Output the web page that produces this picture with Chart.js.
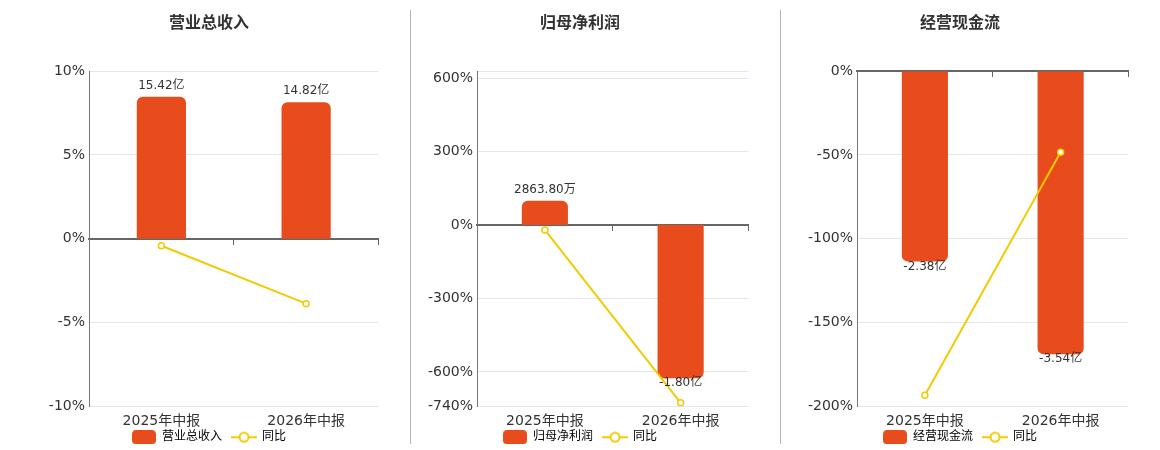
<!DOCTYPE html>
<html>
<head>
<meta charset="utf-8">
<script src="https://cdn.jsdelivr.net/npm/chart.js@4.4.1/dist/chart.umd.min.js"></script>
<style>
  body { margin: 0; background: #fff; }
  #wrap { position: relative; width: 1160px; height: 450px; overflow: hidden; }
  .panel { position: absolute; top: 0; height: 450px; overflow: hidden; }
  .sep { position: absolute; top: 10px; width: 1px; height: 434px; background: #b4b4b4; }
</style>
</head>
<body>
<div id="wrap">
  <div class="panel" style="left:38px;width:346px"><canvas id="c1"></canvas></div>
  <div class="sep" style="left:410px"></div>
  <div class="panel" style="left:410px;width:344px"><canvas id="c2"></canvas></div>
  <div class="sep" style="left:780px"></div>
  <div class="panel" style="left:790px;width:344px"><canvas id="c3"></canvas></div>
</div>
<script>
const categories = ['2025年中报', '2026年中报'];

const revenue = [15.42, 14.82];
const revenueLabels = ['15.42亿', '14.82亿'];
const revenueYoy = [-0.42, -3.88];
const revenueTicks = [-10, -5, 0, 5, 10];

const profit = [0.2864, -1.80];
const profitLabels = ['2863.80万', '-1.80亿'];
const profitYoy = [-20, -726];
const profitTicks = [-740, -600, -300, 0, 300, 600];

const cashflow = [-2.38, -3.54];
const cashflowLabels = ['-2.38亿', '-3.54亿'];
const cashflowYoy = [-193.4, -48.4];
const cashflowTicks = [-200, -150, -100, -50, 0];

const BAR_COLOR = '#E84C1D';
const LINE_COLOR = '#F2CB05';
const FONT = "'DejaVu Sans', 'Noto Sans CJK SC', sans-serif";
const CANVAS_H = 469;

Chart.defaults.font.family = FONT;
Chart.defaults.color = '#333';

function barIcon() {
  const c = document.createElement('canvas');
  c.width = 24; c.height = 14;
  const ctx = c.getContext('2d');
  ctx.fillStyle = BAR_COLOR;
  ctx.beginPath();
  ctx.roundRect(0, 0, 24, 14, 4);
  ctx.fill();
  return c;
}

function lineIcon() {
  const c = document.createElement('canvas');
  c.width = 26; c.height = 12;
  const ctx = c.getContext('2d');
  ctx.strokeStyle = LINE_COLOR;
  ctx.lineWidth = 2;
  ctx.beginPath();
  ctx.moveTo(0, 6); ctx.lineTo(26, 6);
  ctx.stroke();
  ctx.beginPath();
  ctx.arc(13, 6, 4.5, 0, Math.PI * 2);
  ctx.fillStyle = '#fff';
  ctx.fill();
  ctx.stroke();
  return c;
}

// value labels on the bars
const barLabels = {
  id: 'barLabels',
  afterDatasetsDraw(chart, args, opts) {
    const meta = chart.getDatasetMeta(0);
    const ds = chart.data.datasets[0];
    const ctx = chart.ctx;
    ctx.save();
    ctx.font = '12px ' + FONT;
    ctx.fillStyle = '#333';
    ctx.textAlign = 'center';
    ctx.textBaseline = 'middle';
    meta.data.forEach((bar, i) => {
      const v = ds.data[i];
      const y = v >= 0 ? bar.y - 11 : bar.y + 5;
      ctx.fillText(opts.texts[i], bar.x, y);
    });
    ctx.restore();
  }
};

// pull the legend up a little, closer to the category labels
const legendShift = {
  id: 'legendShift',
  afterLayout(chart, args, opts) {
    const lg = chart.legend;
    if (!lg) return;
    lg.top -= opts.dy;
    lg.bottom -= opts.dy;
  }
};

function makeChart(id, o) {
  const ticks = o.ticks;
  new Chart(document.getElementById(id), {
    type: 'bar',
    data: {
      labels: categories,
      datasets: [
        {
          type: 'bar',
          label: o.name,
          data: o.bars,
          yAxisID: 'y1',
          backgroundColor: BAR_COLOR,
          borderRadius: 6,
          borderSkipped: 'start',
          barPercentage: 0.34,
          categoryPercentage: 1,
          order: 1
        },
        {
          type: 'line',
          label: '同比',
          data: o.yoy,
          yAxisID: 'y',
          borderColor: LINE_COLOR,
          borderWidth: 2,
          pointRadius: 3,
          pointBorderWidth: 1.5,
          pointBackgroundColor: '#fff',
          pointBorderColor: LINE_COLOR,
          tension: 0,
          order: 0
        }
      ]
    },
    options: {
      responsive: false,
      animation: false,
      layout: { padding: { right: 4, bottom: 0 } },
      plugins: {
        title: {
          display: true,
          text: o.name,
          color: '#333',
          font: { size: 16, weight: 'bold' },
          padding: { top: 14, bottom: 38 }
        },
        legend: {
          position: 'bottom',
          labels: {
            usePointStyle: true,
            pointStyleWidth: 24,
            padding: 10,
            color: '#555',
            font: { size: 12 },
            generateLabels() {
              return [
                { text: o.name, pointStyle: barIcon(), datasetIndex: 0, fillStyle: BAR_COLOR, strokeStyle: BAR_COLOR, lineWidth: 0, hidden: false },
                { text: '同比', pointStyle: lineIcon(), datasetIndex: 1, fillStyle: LINE_COLOR, strokeStyle: LINE_COLOR, lineWidth: 0, hidden: false }
              ];
            }
          }
        },
        legendShift: { dy: 15.8 },
        tooltip: { enabled: false },
        barLabels: { texts: o.texts }
      },
      scales: {
        x: {
          offset: true,
          grid: { display: false, drawTicks: false },
          border: { display: false },
          ticks: { color: '#333', font: { size: 14 }, padding: 7 }
        },
        x0: {
          type: 'category',
          labels: categories,
          position: { y: 0 },
          offset: true,
          ticks: { display: false },
          grid: { drawOnChartArea: false, drawTicks: true, tickLength: 5, color: '#666', offset: true },
          border: { display: true, color: '#666', width: 2 }
        },
        y: {
          min: o.min,
          max: o.max,
          afterBuildTicks(scale) {
            const vals = ticks.slice();
            if (!vals.includes(o.max)) vals.push(o.max);
            scale.ticks = vals.map(v => ({ value: v }));
          },
          afterFit(scale) { scale.width = o.axisWidth; },
          grid: { color: '#E3E6F0', drawTicks: false },
          border: { display: true, color: '#777', width: 1 },
          ticks: {
            color: '#333',
            font: { size: 14 },
            padding: 4,
            callback: v => ticks.includes(v) ? v + '%' : ''
          }
        },
        y1: {
          display: false,
          min: o.barMin,
          max: o.barMax
        }
      }
    },
    plugins: [barLabels, legendShift]
  });
}

function sizeCanvas(id, w) {
  const c = document.getElementById(id);
  c.width = w; c.height = CANVAS_H;
  c.style.width = w + 'px'; c.style.height = CANVAS_H + 'px';
}
sizeCanvas('c1', 346);
sizeCanvas('c2', 344);
sizeCanvas('c3', 344);

makeChart('c1', {
  name: '营业总收入', bars: revenue, texts: revenueLabels, yoy: revenueYoy,
  ticks: revenueTicks, min: -10, max: 10, barMin: -18.18, barMax: 18.18, axisWidth: 51
});
makeChart('c2', {
  name: '归母净利润', bars: profit, texts: profitLabels, yoy: profitYoy,
  ticks: profitTicks, min: -740, max: 628, barMin: -2.13, barMax: 1.81, axisWidth: 67
});
makeChart('c3', {
  name: '经营现金流', bars: cashflow, texts: cashflowLabels, yoy: cashflowYoy,
  ticks: cashflowTicks, min: -200, max: 0, barMin: -4.19, barMax: 0, axisWidth: 67
});
</script>
</body>
</html>
